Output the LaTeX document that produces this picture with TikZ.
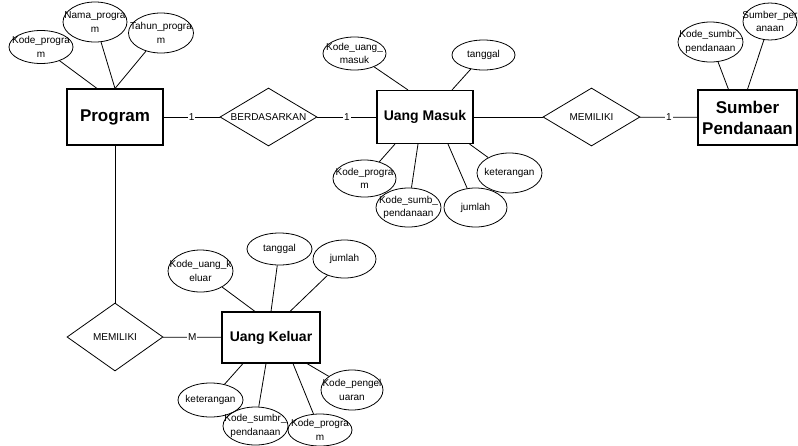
\documentclass[tikz,border=0pt]{standalone}
\usepackage{fontspec}
\setmainfont{Liberation Sans}
\usetikzlibrary{shapes.geometric}
\begin{document}
\begin{tikzpicture}[x=1pt, y=-1pt,
	entitas/.style={draw, line width=1.1pt, inner sep=0pt, align=center, font=\bfseries\fontsize{14}{19}\selectfont},
	besar/.style={font=\bfseries\fontsize{17}{21}\selectfont},
	atribut/.style={draw, ellipse, line width=0.8pt, inner sep=0pt},
	relasi/.style={draw, diamond, line width=0.8pt, inner sep=0pt},
	isi/.style={align=center, inner sep=0pt, font=\fontsize{10}{13.5}\selectfont},
	kard/.style={fill=white, inner sep=1pt, font=\fontsize{10}{11}\selectfont},
	garis/.style={line width=0.8pt}]
	\path[fill=white, use as bounding box] (0,0) rectangle (798,445);
	% entitas
	\node[entitas, besar, minimum width=96pt, minimum height=56pt] (prog) at (115,117) {Program};
	\node[entitas, minimum width=96pt, minimum height=53pt] (umasuk) at (425,117) {Uang Masuk};
	\node[entitas, besar, minimum width=99pt, minimum height=55pt] (sumber) at (747.5,117.5) {Sumber\\Pendanaan};
	\node[entitas, minimum width=98pt, minimum height=51pt] (ukeluar) at (271,337.5) {Uang Keluar};
	% relasi
	\node[relasi, minimum width=97pt, minimum height=58pt, label={[isi]center:BERDASARKAN}] (berdasar) at (268.5,117) {};
	\node[relasi, minimum width=97pt, minimum height=58pt, label={[isi]center:MEMILIKI}] (milik1) at (591.5,117) {};
	\node[relasi, minimum width=96pt, minimum height=68pt, label={[isi]center:MEMILIKI}] (milik2) at (115,337) {};
	% atribut
	\node[atribut, minimum width=64pt, minimum height=33pt, label={[isi]center:Kode\_progra\\m}] (kprog) at (41,47) {};
	\node[atribut, minimum width=64pt, minimum height=40pt, label={[isi]center:Nama\_progra\\m}] (nprog) at (95,22) {};
	\node[atribut, minimum width=65pt, minimum height=40pt, label={[isi]center:Tahun\_progra\\m}] (tprog) at (161,33) {};
	\node[atribut, minimum width=63pt, minimum height=33pt, label={[isi]center:Kode\_uang\_\\masuk}] (kum) at (354.5,53.5) {};
	\node[atribut, minimum width=63pt, minimum height=30pt, label={[isi]center:tanggal}] (tgl1) at (483.5,55) {};
	\node[atribut, minimum width=63pt, minimum height=37pt, label={[isi]center:Kode\_progra\\m}] (kprog2) at (364.5,178.5) {};
	\node[atribut, minimum width=65pt, minimum height=39pt, label={[isi]center:Kode\_sumb\_\\pendanaan}] (ksp1) at (408.5,207.5) {};
	\node[atribut, minimum width=63pt, minimum height=39pt, label={[isi]center:jumlah}] (jml1) at (475.5,207.5) {};
	\node[atribut, minimum width=65pt, minimum height=40pt, label={[isi]center:keterangan}] (ket1) at (509.5,173) {};
	\node[atribut, minimum width=65pt, minimum height=40pt, label={[isi]center:Kode\_sumbr\_\\pendanaan}] (ksumbr) at (710.5,42) {};
	\node[atribut, minimum width=54pt, minimum height=37pt, label={[isi]center:Sumber\_per\\anaan}] (sper) at (770,21.5) {};
	\node[atribut, minimum width=65pt, minimum height=42pt, label={[isi]center:Kode\_uang\_k\\eluar}] (kuk) at (200.5,271) {};
	\node[atribut, minimum width=65pt, minimum height=32pt, label={[isi]center:tanggal}] (tgl2) at (279.5,249) {};
	\node[atribut, minimum width=63pt, minimum height=38pt, label={[isi]center:jumlah}] (jml2) at (344.5,259) {};
	\node[atribut, minimum width=65pt, minimum height=34pt, label={[isi]center:keterangan}] (ket2) at (210.5,400) {};
	\node[atribut, minimum width=65pt, minimum height=38pt, label={[isi]center:Kode\_sumbr\_\\pendanaan}] (ksp2) at (255.5,426) {};
	\node[atribut, minimum width=64pt, minimum height=32pt, label={[isi]center:Kode\_progra\\m}] (kprog3) at (320,430) {};
	\node[atribut, minimum width=62pt, minimum height=40pt, label={[isi]center:Kode\_pengel\\uaran}] (kpeng) at (352,390) {};
	% garis atribut
	\draw[garis] (kprog) -- ([xshift=-18pt]prog.north);
	\draw[garis] (nprog) -- (prog.north);
	\draw[garis] (tprog) -- (prog.north);
	\draw[garis] (kum) -- ([xshift=-17pt]umasuk.north);
	\draw[garis] (tgl1) -- ([xshift=27pt]umasuk.north);
	\draw[garis] (kprog2) -- ([xshift=-30pt]umasuk.south);
	\draw[garis] (ksp1) -- ([xshift=-7pt]umasuk.south);
	\draw[garis] (jml1) -- ([xshift=23pt]umasuk.south);
	\draw[garis] (ket1) -- ([xshift=-4pt]umasuk.south east);
	\draw[garis] (ksumbr) -- ([xshift=-19pt]sumber.north);
	\draw[garis] (sper) -- (sumber.north);
	\draw[garis] (kuk) -- ([xshift=-16pt]ukeluar.north);
	\draw[garis] (tgl2) -- (ukeluar.north);
	\draw[garis] (jml2) -- ([xshift=19pt]ukeluar.north);
	\draw[garis] (ket2) -- ([xshift=-28pt]ukeluar.south);
	\draw[garis] (ksp2) -- ([xshift=-5pt]ukeluar.south);
	\draw[garis] (kprog3) -- ([xshift=22pt]ukeluar.south);
	\draw[garis] (kpeng) -- ([xshift=36pt]ukeluar.south);
	% garis relasi
	\draw[garis] (prog) -- node[kard] {1} (berdasar);
	\draw[garis] (berdasar) -- node[kard] {1} (umasuk);
	\draw[garis] (umasuk) -- (milik1);
	\draw[garis] (milik1) -- node[kard] {1} (sumber);
	\draw[garis] (prog) -- (milik2);
	\draw[garis] (milik2) -- node[kard] {M} (ukeluar);
\end{tikzpicture}
\end{document}
